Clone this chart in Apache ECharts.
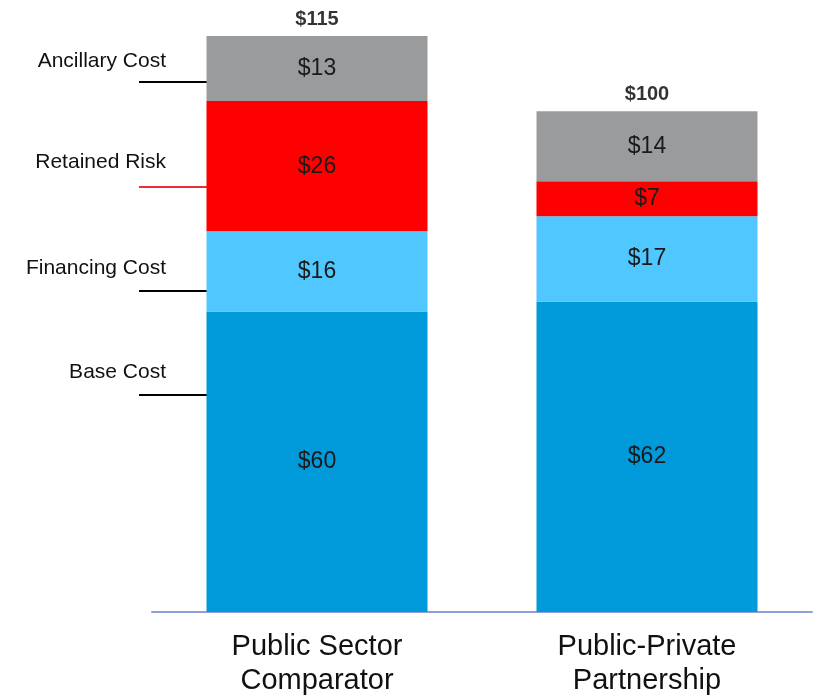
<!DOCTYPE html>
<html lang="en">

<head>
    <meta charset="UTF-8">
    <title>PSC vs PPP</title>
    <script src="https://cdn.jsdelivr.net/npm/echarts@6/dist/echarts.min.js"></script>
    <style>
        html, body { margin: 0; padding: 0; background: #fff; }
        #chart { width: 821px; height: 696px; }
    </style>
</head>

<body>
    <div id="chart"></div>
    <script>
        // data
        var categories = ['Public Sector\nComparator', 'Public-Private\nPartnership'];
        var baseCost = [60, 62];
        var financingCost = [16, 17];
        var retainedRisk = [26, 7];
        var ancillaryCost = [13, 14];
        var totals = [115, 100];

        var font = 'Liberation Sans, Arial, sans-serif';

        function seg(name, data, color) {
            return {
                name: name,
                type: 'bar',
                stack: 'cost',
                data: data,
                barWidth: 221,
                itemStyle: { color: color },
                label: {
                    show: true,
                    position: 'inside',
                    formatter: '${c}',
                    color: '#1a1a1a',
                    fontSize: 23,
                    fontFamily: font
                }
            };
        }

        var myChart = echarts.init(document.getElementById('chart'));

        // side labels with leader lines (left of the first bar)
        var sideLabels = [
            { text: 'Ancillary Cost', y: 61, lineY: 82, color: '#000' },
            { text: 'Retained Risk', y: 162, lineY: 187, color: '#e8303a' },
            { text: 'Financing Cost', y: 268, lineY: 291, color: '#000' },
            { text: 'Base Cost', y: 372, lineY: 395, color: '#000' }
        ];
        var graphics = [];
        sideLabels.forEach(function (s) {
            graphics.push({
                type: 'text',
                x: 166, y: s.y,
                style: {
                    text: s.text,
                    textAlign: 'right',
                    textVerticalAlign: 'middle',
                    font: '21px ' + font,
                    fill: '#111'
                }
            });
            graphics.push({
                type: 'line',
                shape: { x1: 139, y1: s.lineY, x2: 207, y2: s.lineY },
                style: { stroke: s.color, lineWidth: 2 }
            });
        });

        myChart.setOption({
            animation: false,
            backgroundColor: '#fff',
            grid: { left: 152, right: 9, top: 36, bottom: 84, outerBoundsMode: 'none', containLabel: false },
            xAxis: {
                type: 'category',
                data: categories,
                axisLine: { lineStyle: { color: '#8fa0d8', width: 2 } },
                axisTick: { show: false },
                axisLabel: {
                    color: '#111',
                    fontSize: 29,
                    fontFamily: font,
                    lineHeight: 34,
                    margin: 18
                }
            },
            yAxis: {
                type: 'value',
                min: 0,
                max: 115,
                show: false,
                splitLine: { show: false }
            },
            series: [
                seg('Base Cost', baseCost, '#0099da'),
                seg('Financing Cost', financingCost, '#50c8ff'),
                seg('Retained Risk', retainedRisk, '#ff0000'),
                seg('Ancillary Cost', ancillaryCost, '#9a9b9d'),
                {
                    name: 'Total',
                    type: 'scatter',
                    data: totals,
                    symbolSize: 0,
                    label: {
                        show: true,
                        position: 'top',
                        distance: 7,
                        formatter: '${c}',
                        color: '#000',
                        textBorderWidth: 0,
                        fontWeight: 'bold',
                        fontSize: 20,
                        fontFamily: font
                    }
                }
            ],
            graphic: graphics
        });
    </script>
</body>

</html>
